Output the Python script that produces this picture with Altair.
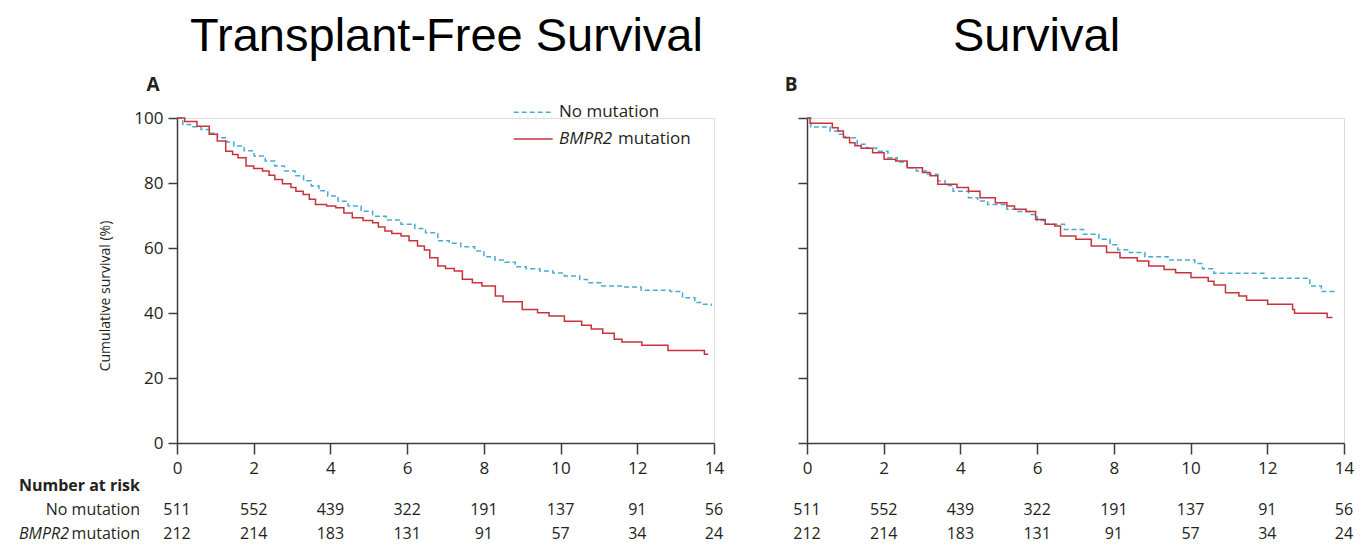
import altair as alt
import pandas as pd

# ---------------- data ----------------
TICKS = [0, 2, 4, 6, 8, 10, 12, 14]
Y_TICKS = [0, 20, 40, 60, 80, 100]
RISK_NO = [511, 552, 439, 322, 191, 137, 91, 56]
RISK_BMPR2 = [212, 214, 183, 131, 91, 57, 34, 24]

GROUPS = ["No mutation", "BMPR2 mutation"]

# Panel A: transplant-free survival
A_NO_T = [0, 0.15, 0.35, 0.63, 0.85, 1.06, 1.3, 1.48, 1.75, 2.01, 2.3, 2.55, 2.8, 3.08, 3.3, 3.5,
          3.7, 3.93, 4.2, 4.46, 4.8, 5.1, 5.45, 5.84, 6.2, 6.48, 6.8, 7.1, 7.4, 7.76, 8.0, 8.29,
          8.55, 8.82, 9.1, 9.46, 9.8, 10.1, 10.5, 10.7, 11.05, 11.58, 12.1, 12.86, 13.18, 13.5,
          13.7, 13.93]
A_NO_S = [100, 98, 97.3, 96.5, 95.3, 93.9, 92.6, 91.4, 89.9, 88.3, 86.8, 85.2, 83.7, 82.2, 80.7,
          79.1, 77.6, 76, 74.4, 72.9, 71.3, 69.8, 68.6, 67.3, 66, 64.7, 62.2, 61.5, 60.4, 59.1,
          57.3, 56.3, 55.6, 54.2, 53.6, 52.9, 52.3, 51.4, 50.3, 49.3, 48.3, 48, 47, 46.6, 44.7,
          43.2, 42.7, 42.2]
A_MU_T = [0, 0.2, 0.52, 0.84, 1.05, 1.27, 1.45, 1.59, 1.8, 2.0, 2.23, 2.4, 2.55, 2.75, 2.97, 3.1,
          3.29, 3.45, 3.61, 3.9, 4.14, 4.35, 4.57, 4.85, 5.1, 5.25, 5.42, 5.6, 5.84, 6.05, 6.27,
          6.45, 6.59, 6.8, 7.0, 7.23, 7.44, 7.7, 7.95, 8.3, 8.5, 9.0, 9.4, 9.7, 10.1, 10.55, 10.8,
          11.1, 11.4, 11.6, 12.12, 12.8, 13.75, 13.85]
A_MU_S = [100, 98.9, 97.5, 95, 92.9, 89.8, 88.8, 87.8, 85.2, 84.5, 83.7, 82.4, 81.1, 79.8, 78.6,
          77.5, 76.5, 75, 73.4, 72.9, 72.4, 70.8, 69.3, 68.5, 67.8, 66.5, 65.2, 64.5, 63.7, 62.2,
          60.6, 59.4, 57, 54.5, 53.7, 52.9, 50.4, 49.3, 48.3, 45.2, 43.5, 41.1, 40.1, 39.1, 37.5,
          36.2, 35.1, 33.8, 31.9, 31.1, 30.1, 28.5, 27.3, 27.3]

# Panel B: survival
B_NO_T = [0, 0.1, 0.6, 0.8, 1.0, 1.31, 1.55, 1.81, 2.11, 2.35, 2.61, 2.85, 3.11, 3.41, 3.6, 3.81,
          4.21, 4.45, 4.71, 5.21, 5.5, 5.81, 6.0, 6.21, 6.71, 7.21, 7.61, 7.9, 8.1, 8.41, 8.81,
          9.41, 10.11, 10.31, 10.61, 11.91, 13.11, 13.41, 13.8]
B_NO_S = [100, 97.2, 96, 95, 93.9, 91.9, 90.8, 89.8, 87.8, 86.5, 84.7, 83.7, 82.7, 80.6, 79.2,
          77.5, 75.5, 74.5, 73.4, 71.9, 71.2, 70.3, 68.5, 67.3, 65.7, 64.2, 62.7, 61, 59.5, 58.6,
          57.3, 56.3, 55.2, 53.6, 52.2, 50.7, 48.3, 46.6, 46.6]
B_MU_T = [0, 0.08, 0.66, 0.81, 0.95, 1.11, 1.25, 1.41, 1.71, 2.01, 2.31, 2.61, 3.01, 3.21, 3.41,
          3.91, 4.21, 4.51, 4.91, 5.21, 5.41, 5.71, 5.96, 6.21, 6.46, 6.61, 7.01, 7.41, 7.81, 8.16,
          8.61, 8.91, 9.31, 9.61, 10.01, 10.46, 10.61, 10.91, 11.26, 11.46, 12.01, 12.66, 12.71,
          13.56, 13.7]
B_MU_S = [100, 98.4, 97, 96, 94, 92.4, 91.5, 90.7, 89.3, 87.3, 86.8, 84.7, 83.2, 82.2, 79.6,
          78.6, 77.5, 75.5, 73.9, 72.9, 71.9, 71.2, 68.8, 67.3, 66.8, 63.7, 62.7, 60.6, 58.6, 57,
          56, 54.5, 53.4, 52.4, 50.9, 49.8, 48.6, 46.2, 45.2, 43.9, 42.7, 41.1, 39.9, 38.6, 38.6]

# ---------------- style ----------------
BLUE = "#48a9d4"
RED = "#c7333b"
AXIS = "#3c3c3c"
TXT = "#231f20"
FONT = "Open Sans"
TFONT = "Liberation Sans"
W, H = 537, 325
FS = 17      # tick labels
TS = 16      # table text


def curves(no_t, no_s, mu_t, mu_s):
    rows = [{"t": t, "s": s, "g": GROUPS[0]} for t, s in zip(no_t, no_s)]
    rows += [{"t": t, "s": s, "g": GROUPS[1]} for t, s in zip(mu_t, mu_s)]
    return pd.DataFrame(rows)


RISK_DF = pd.DataFrame({"t": TICKS, "no": RISK_NO, "mu": RISK_BMPR2})
ONE = pd.DataFrame({"a": [0]})

X_SCALE = alt.Scale(domain=[0, 14], nice=False, zero=False)
Y_SCALE = alt.Scale(domain=[0, 100], nice=False)

X_AXIS = alt.Axis(values=TICKS, format="d", title=None, grid=False, tickSize=11, labelPadding=6,
                  labelFontSize=FS, labelFont=FONT, labelColor=TXT, domainColor=AXIS,
                  tickColor=AXIS, domainWidth=1.5, tickWidth=1.5, labelFlush=False)


def x_enc():
    return alt.X("t:Q", scale=X_SCALE, axis=X_AXIS)


def label(text, x, y, size=TS, align="left", baseline="middle", weight="normal", style="normal",
          font=FONT, angle=0, color=TXT):
    return alt.Chart(ONE).mark_text(
        text=text, fontSize=size, align=align, baseline=baseline, fontWeight=weight,
        fontStyle=style, font=font, angle=angle, color=color
    ).encode(x=alt.value(x), y=alt.value(y))


def panel(df, show_labels, title, title_x, letter, letter_x, extra):
    y_axis = alt.Axis(values=Y_TICKS, title=None, grid=False, tickSize=9, labelPadding=5,
                      labels=show_labels, labelFontSize=FS, labelFont=FONT, labelColor=TXT,
                      domainColor=AXIS, tickColor=AXIS, domainWidth=1.5, tickWidth=1.5)
    lines = alt.Chart(df).mark_line(interpolate="step-after", strokeWidth=1.5).encode(
        x=x_enc(),
        y=alt.Y("s:Q", scale=Y_SCALE, axis=y_axis),
        color=alt.Color("g:N", scale=alt.Scale(domain=GROUPS, range=[BLUE, RED]), legend=None),
        strokeDash=alt.StrokeDash("g:N", scale=alt.Scale(domain=GROUPS, range=[[5, 3], [1, 0]]),
                                  legend=None),
    )
    row1 = alt.Chart(RISK_DF).mark_text(fontSize=TS, font=FONT, color=TXT, baseline="middle").encode(
        x=x_enc(), y=alt.value(392.3), text="no:Q")
    row2 = alt.Chart(RISK_DF).mark_text(fontSize=TS, font=FONT, color=TXT, baseline="middle").encode(
        x=x_enc(), y=alt.value(415.5), text="mu:Q")
    ttl = label(title, title_x, -67.2, size=47, align="center", baseline="alphabetic", font=TFONT,
                color="#000000")
    let = label(letter, letter_x, -26.7, size=19, align="center", baseline="alphabetic",
                weight="bold")
    layers = [lines, row1, row2, ttl, let] + extra
    return alt.layer(*layers).properties(width=W, height=H)


# anchor that fixes the top-left corner of the drawing (invisible)
anchor = alt.Chart(ONE).mark_rule(opacity=0, strokeWidth=1).encode(
    x=alt.value(-168), x2=alt.value(-167), y=alt.value(-108.7), y2=alt.value(-107.7))

legend_no_line = alt.Chart(ONE).mark_rule(color=BLUE, strokeWidth=1.5, strokeDash=[5, 3]).encode(
    x=alt.value(336.7), x2=alt.value(375.7), y=alt.value(-5.7))
legend_mu_line = alt.Chart(ONE).mark_rule(color=RED, strokeWidth=1.5).encode(
    x=alt.value(336.7), x2=alt.value(375.7), y=alt.value(21.0))

extra_a = [
    anchor,
    legend_no_line,
    legend_mu_line,
    label("No mutation", 382, -5.7, size=17),
    label("BMPR2", 382, 21.0, size=17, style="italic"),
    label("mutation", 441, 21.0, size=17),
    label("Cumulative survival (%)", -71, 253.3, size=14, angle=270, align="left"),
    label("Number at risk", -37, 368.3, align="right", weight="bold"),
    label("No mutation", -37, 392.3, align="right"),
    label("mutation", -37, 415.5, align="right"),
    label("BMPR2", -108, 415.5, align="right", style="italic"),
]

panel_a = panel(curves(A_NO_T, A_NO_S, A_MU_T, A_MU_S), True, "Transplant-Free Survival", 269.5,
                "A", -24, extra_a)
panel_b = panel(curves(B_NO_T, B_NO_S, B_MU_T, B_MU_S), False, "Survival", 229.5,
                "B", -16, [])

chart = alt.hconcat(panel_a, panel_b, spacing=93, bounds="flush").properties(
    padding=0
).configure_view(strokeWidth=0).configure(background="white")

chart.save("out.html", embed_options={"renderer": "svg", "actions": False})
